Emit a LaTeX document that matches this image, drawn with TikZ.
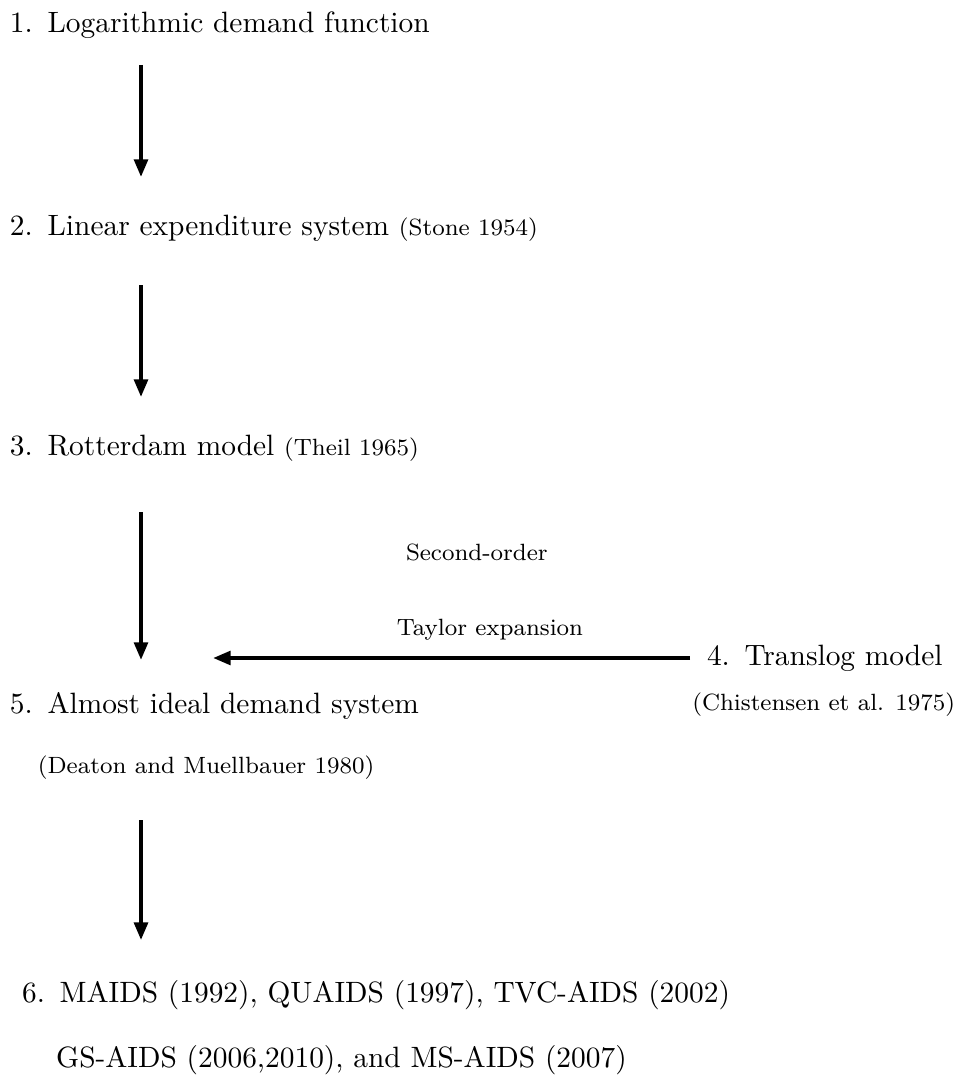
\documentclass[tikz,border=0pt]{standalone}
\usetikzlibrary{calc}
\usetikzlibrary{arrows.meta}
\usetikzlibrary{positioning}
\newcommand{\itm}[1]{#1.\hspace{0.5em}}
\begin{document}
\begin{tikzpicture}[x=0.34pt,y=0.34pt,
        every node/.append style={inner sep=0pt, outer sep=0pt},
        flow/.style={line width=1.35pt, -{Triangle[width=4.6pt,length=6pt]}},
        cite/.style={font=\footnotesize}
    ]
        \useasboundingbox (0,0) rectangle (960,-1088);
        \coordinate (ax) at (141,0);
        \coordinate (hx) at (213,0);

        \node (1) [anchor=base west] at (10,-33) {\itm{1}Logarithmic demand function};
        \node (2) [below=68.7pt of 1.base west, anchor=base west] {\itm{2}Linear expenditure system {\footnotesize(Stone 1954)}};
        \node (3) [below=74.8pt of 2.base west, anchor=base west] {\itm{3}Rotterdam model {\footnotesize(Theil 1965)}};
        \node (5) [below=87.7pt of 3.base west, anchor=base west] {\itm{5}Almost ideal demand system};
        \node (5c) [below right=20.4pt and 9.5pt of 5.base west, anchor=base west, cite] {(Deaton and Muellbauer 1980)};
        \node (6) [below right=98.3pt and 4.1pt of 5.base west, anchor=base west] {\itm{6}MAIDS (1992), QUAIDS (1997), TVC-AIDS (2002)};
        \node (6b) [below right=22.1pt and 11.6pt of 6.base west, anchor=base west] {GS-AIDS (2006,2010), and MS-AIDS (2007)};

        \node (4) [anchor=base west] at (707,-665) {\itm{4}Translog model};
        \node (4c) [below right=15.3pt and -5pt of 4.base west, anchor=base west, cite] {(Chistensen et al. 1975)};
        \node (t1) [anchor=base west, cite] at (406,-560) {Second-order};
        \node (t2) [below right=25.5pt and -3.1pt of t1.base west, anchor=base west, cite] {Taylor expansion};

        \draw [flow] ($(1.base -| ax)+(0,-32)$) -- ($(2.base -| ax)+(0,58)$);
        \draw [flow] ($(2.base -| ax)+(0,-50)$) -- ($(3.base -| ax)+(0,58)$);
        \draw [flow] ($(3.base -| ax)+(0,-57)$) -- ($(5.base -| ax)+(0,53)$);
        \draw [flow] ($(5c.base -| ax)+(0,-47)$) -- ($(6.base -| ax)+(0,62)$);
        \draw [flow] ($(4.base west)+(-17,7)$) coordinate (h4) -- (h4 -| hx);
    \end{tikzpicture}
\end{document}
